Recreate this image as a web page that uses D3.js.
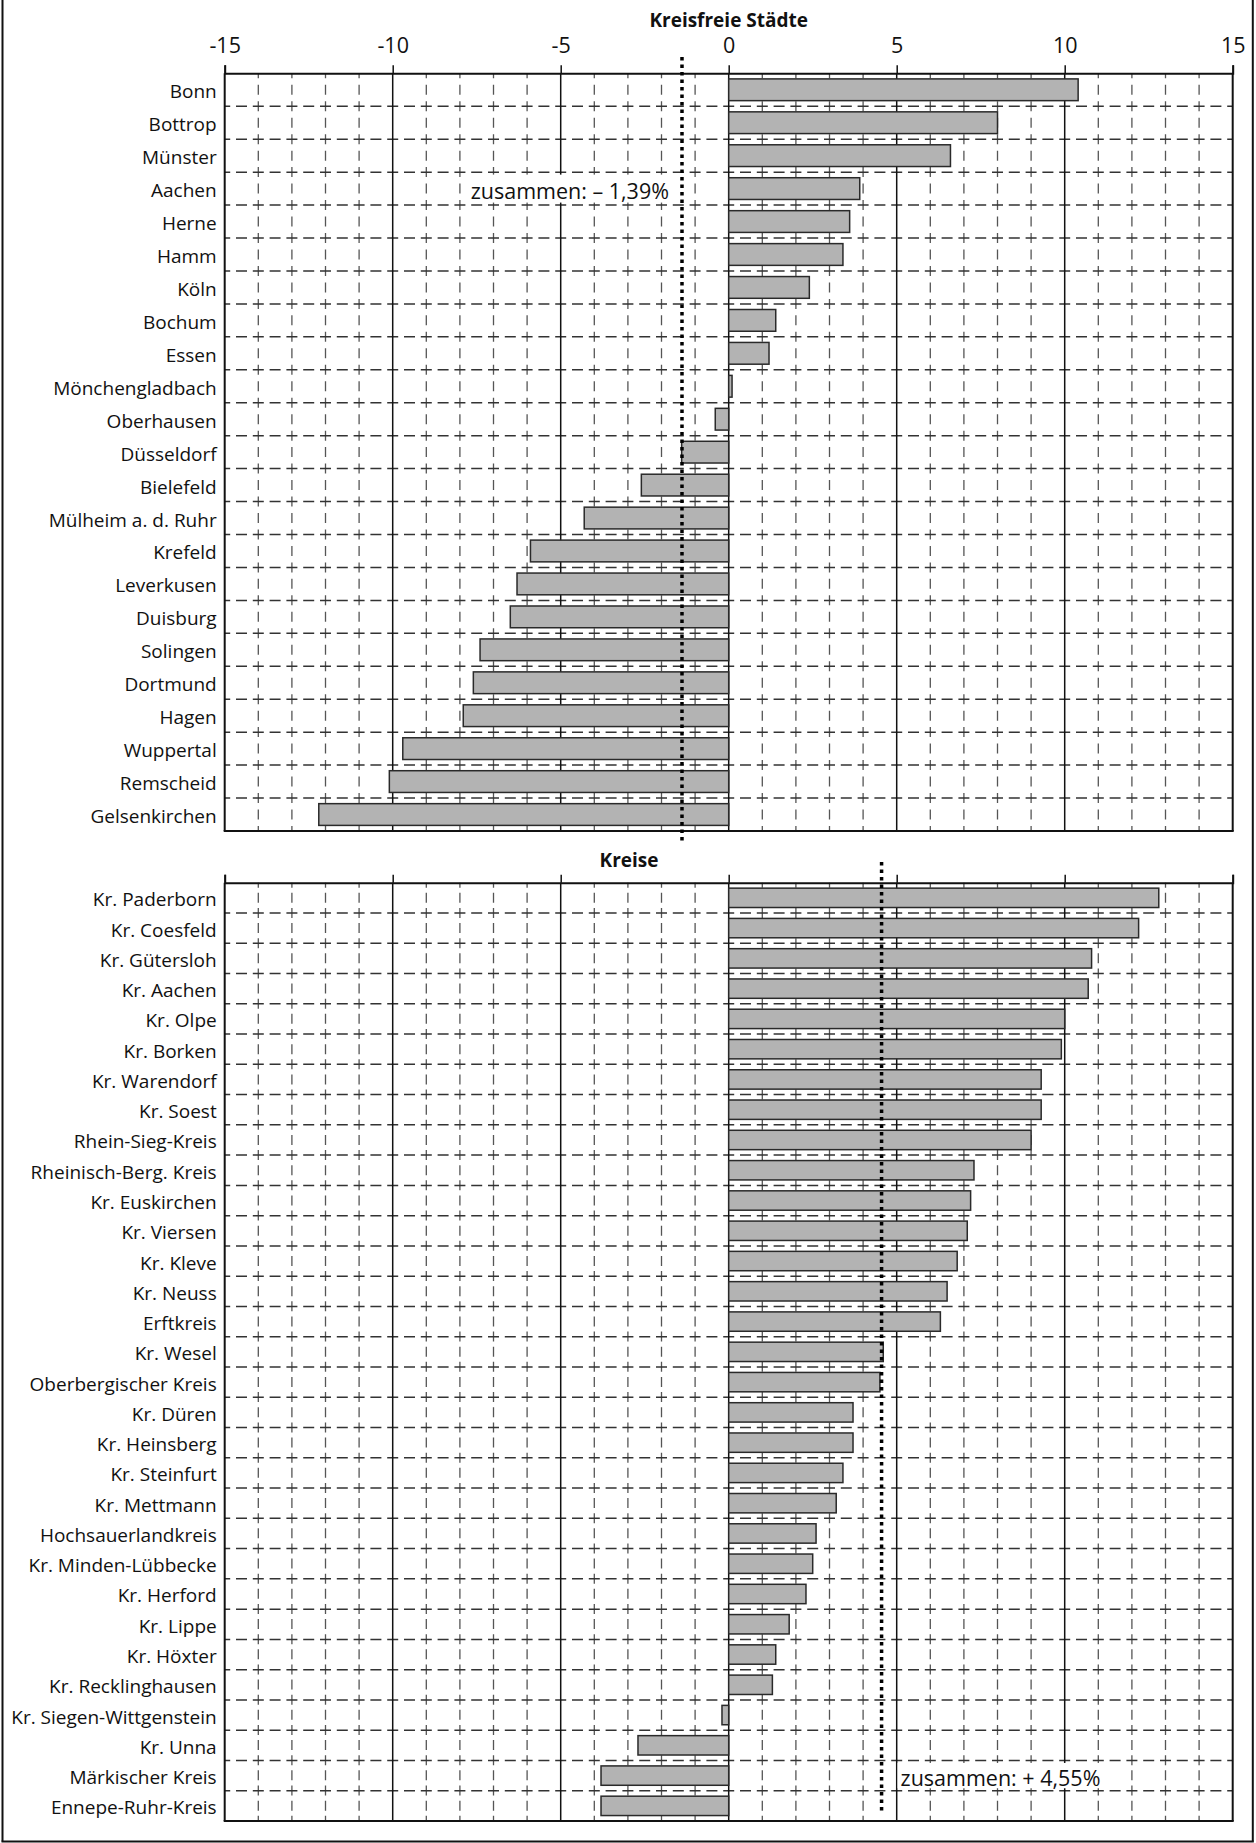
<!DOCTYPE html>
<html>
<head>
<meta charset="utf-8">
<script src="https://cdn.jsdelivr.net/npm/d3@7"></script>
<style>
  html, body { margin: 0; padding: 0; background: #fff; }
  svg { display: block; font-family: "Open Sans", "Noto Sans", sans-serif; }
</style>
</head>
<body>
<svg id="chart" width="1256" height="1843"></svg>
<script>
// ---------- data ----------
const cityNames = ["Bonn","Bottrop","Münster","Aachen","Herne","Hamm","Köln","Bochum","Essen",
  "Mönchengladbach","Oberhausen","Düsseldorf","Bielefeld","Mülheim a. d. Ruhr","Krefeld",
  "Leverkusen","Duisburg","Solingen","Dortmund","Hagen","Wuppertal","Remscheid","Gelsenkirchen"];
const cityValues = [10.4, 8.0, 6.6, 3.9, 3.6, 3.4, 2.4, 1.4, 1.2,
  0.1, -0.4, -1.4, -2.6, -4.3, -5.9,
  -6.3, -6.5, -7.4, -7.6, -7.9, -9.7, -10.1, -12.2];
const cityTotal = -1.39;
const cityTotalLabel = "zusammen: \u2013 1,39%";
const cityTotalRow = "Aachen";

const kreisNames = ["Kr. Paderborn","Kr. Coesfeld","Kr. Gütersloh","Kr. Aachen","Kr. Olpe","Kr. Borken",
  "Kr. Warendorf","Kr. Soest","Rhein-Sieg-Kreis","Rheinisch-Berg. Kreis","Kr. Euskirchen","Kr. Viersen",
  "Kr. Kleve","Kr. Neuss","Erftkreis","Kr. Wesel","Oberbergischer Kreis","Kr. Düren","Kr. Heinsberg",
  "Kr. Steinfurt","Kr. Mettmann","Hochsauerlandkreis","Kr. Minden-Lübbecke","Kr. Herford","Kr. Lippe",
  "Kr. Höxter","Kr. Recklinghausen","Kr. Siegen-Wittgenstein","Kr. Unna","Märkischer Kreis","Ennepe-Ruhr-Kreis"];
const kreisValues = [12.8, 12.2, 10.8, 10.7, 10.0, 9.9,
  9.3, 9.3, 9.0, 7.3, 7.2, 7.1,
  6.8, 6.5, 6.3, 4.6, 4.5, 3.7, 3.7,
  3.4, 3.2, 2.6, 2.5, 2.3, 1.8,
  1.4, 1.3, -0.2, -2.7, -3.8, -3.8];
const kreisTotal = 4.55;
const kreisTotalLabel = "zusammen: + 4,55%";
const kreisTotalRow = "Märkischer Kreis";

const tickValues = [-15, -10, -5, 0, 5, 10, 15];
const tickLabels = ["-15", "-10", "-5", "0", "5", "10", "15"];
const minorValues = d3.range(-15, 16).filter(v => v % 5 !== 0);
const majorValues = [-15, -10, -5, 0, 5, 10, 15];

// ---------- layout ----------
const svg = d3.select("#chart");
const x = d3.scaleLinear().domain([-15, 15]).range([224.7, 1232.7]);

// outer frame
svg.append("line").attr("x1", 2.5).attr("x2", 2.5).attr("y1", 0).attr("y2", 1841.5)
  .attr("stroke", "#111").attr("stroke-width", 2);
svg.append("line").attr("x1", 1252.8).attr("x2", 1252.8).attr("y1", 0).attr("y2", 1841.5)
  .attr("stroke", "#111").attr("stroke-width", 2);
svg.append("line").attr("x1", 1.5).attr("x2", 1253.8).attr("y1", 1841.5).attr("y2", 1841.5)
  .attr("stroke", "#111").attr("stroke-width", 2);

function panel(opts) {
  const { names, values, top, bottom, padding, title, titleX, titleY, showTickLabels,
          total, totalLabel, totalRow, dotTop, dotBottom, labelSide } = opts;
  const g = svg.append("g");
  const y = d3.scaleBand().domain(names).range([top, bottom])
    .paddingInner(padding).paddingOuter(padding / 2);
  const step = y.step();

  // vertical minor dashed grid
  g.append("g").selectAll("line").data(minorValues).join("line")
    .attr("x1", d => x(d)).attr("x2", d => x(d))
    .attr("y1", top).attr("y2", bottom)
    .attr("stroke", "#555").attr("stroke-width", 1.3)
    .attr("stroke-dasharray", `10,${(step / 2 - 10).toFixed(2)}`)
    .attr("stroke-dashoffset", 5);

  // horizontal dashed row separators
  const seps = d3.range(1, names.length).map(i => top + i * step);
  const per = (x(1) - x(0)) / 2;
  g.append("g").selectAll("line").data(seps).join("line")
    .attr("x1", x(-15)).attr("x2", x(15))
    .attr("y1", d => d).attr("y2", d => d)
    .attr("stroke", "#333").attr("stroke-width", 1.5)
    .attr("stroke-dasharray", `11,${(per - 11).toFixed(2)}`)
    .attr("stroke-dashoffset", 5.5);

  // major solid verticals
  g.append("g").selectAll("line").data(majorValues).join("line")
    .attr("x1", d => x(d)).attr("x2", d => x(d))
    .attr("y1", top).attr("y2", bottom)
    .attr("stroke", "#111").attr("stroke-width", d => Math.abs(d) === 15 ? 2 : 1.5);

  // bars
  const data = names.map((n, i) => ({ name: n, value: values[i] }));
  g.append("g").selectAll("rect").data(data).join("rect")
    .attr("x", d => x(Math.min(0, d.value)))
    .attr("width", d => Math.abs(x(d.value) - x(0)))
    .attr("y", d => y(d.name))
    .attr("height", y.bandwidth())
    .attr("fill", "#b3b3b3")
    .attr("stroke", "#2a2a2a").attr("stroke-width", 1.5);

  // axis (top) with ticks above plot
  const axis = d3.axisTop(x).tickValues(tickValues).tickSize(8).tickPadding(12)
    .tickFormat((d, i) => showTickLabels ? tickLabels[i] : "");
  const ag = g.append("g").attr("transform", `translate(0,${top})`).call(axis);
  ag.select(".domain").attr("stroke", "#111").attr("stroke-width", 2);
  ag.selectAll(".tick line").attr("stroke", "#111").attr("stroke-width", 1.5);
  ag.selectAll(".tick text").attr("fill", "#111").attr("font-size", 21.5)
    .attr("font-family", "'Open Sans', sans-serif");

  // bottom solid line
  g.append("line").attr("x1", x(-15) - 1).attr("x2", x(15) + 1)
    .attr("y1", bottom).attr("y2", bottom)
    .attr("stroke", "#111").attr("stroke-width", 2);

  // category labels
  g.append("g").selectAll("text").data(names).join("text")
    .attr("x", x(-15) - 8)
    .attr("y", d => y(d) + y.bandwidth() / 2 + 8.5)
    .attr("text-anchor", "end")
    .attr("font-size", 19)
    .attr("fill", "#111")
    .text(d => d);

  // title
  g.append("text").attr("x", titleX).attr("y", titleY)
    .attr("text-anchor", "middle").attr("font-weight", "bold")
    .attr("font-size", 19).attr("fill", "#111").text(title);

  // total annotation (white box behind)
  const rowCenter = y(totalRow) + y.bandwidth() / 2;
  const t = g.append("text")
    .attr("x", labelSide === "left" ? x(total) - 13 : x(total) + 19)
    .attr("y", rowCenter + 10)
    .attr("text-anchor", labelSide === "left" ? "end" : "start")
    .attr("font-size", 21.5).attr("fill", "#111")
    .text(totalLabel);
  const bb = t.node().getBBox();
  g.insert("rect", () => t.node())
    .attr("x", bb.x - 3).attr("width", bb.width + 6)
    .attr("y", y(totalRow) - step * padding / 2 + 2.5)
    .attr("height", step - 5)
    .attr("fill", "#fff");

  // dotted total line
  g.append("line").attr("x1", x(total)).attr("x2", x(total))
    .attr("y1", dotTop).attr("y2", dotBottom)
    .attr("stroke", "#000").attr("stroke-width", 3.5)
    .attr("stroke-dasharray", "3.5,4");
}

panel({
  names: cityNames, values: cityValues, top: 73.3, bottom: 831, padding: 0.34,
  title: "Kreisfreie Städte", titleX: x(0), titleY: 27.3, showTickLabels: true,
  total: cityTotal, totalLabel: cityTotalLabel, totalRow: cityTotalRow,
  dotTop: 57, dotBottom: 841, labelSide: "left"
});

panel({
  names: kreisNames, values: kreisValues, top: 882.7, bottom: 1821, padding: 0.36,
  title: "Kreise", titleX: 629, titleY: 866.7, showTickLabels: false,
  total: kreisTotal, totalLabel: kreisTotalLabel, totalRow: kreisTotalRow,
  dotTop: 862, dotBottom: 1814, labelSide: "right"
});
</script>
</body>
</html>
